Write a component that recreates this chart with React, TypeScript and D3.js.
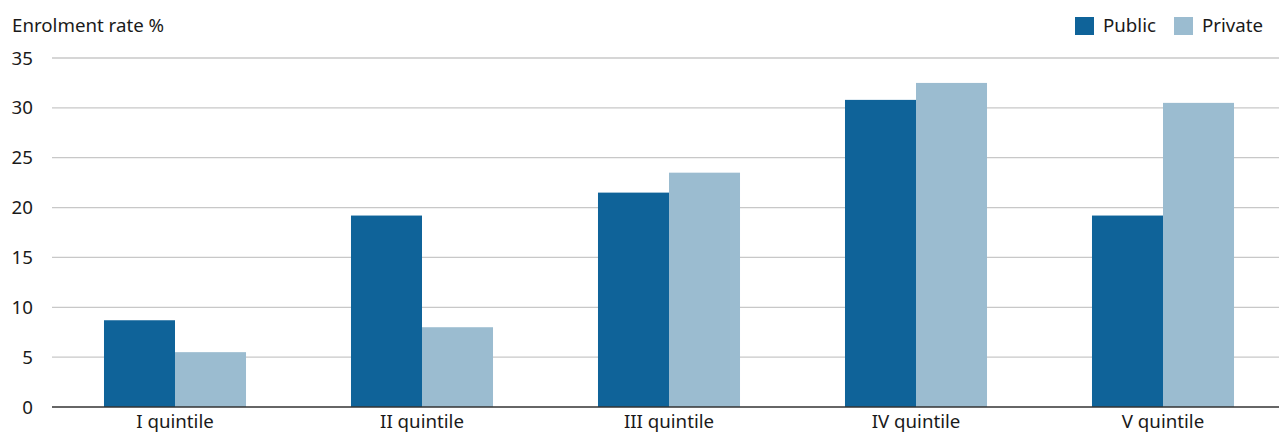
import React from "react";
import * as d3 from "d3";

const categories = ["I quintile", "II quintile", "III quintile", "IV quintile", "V quintile"];
const publicValues = [8.7, 19.2, 21.5, 30.8, 19.2];
const privateValues = [5.5, 8.0, 23.5, 32.5, 30.5];
const seriesNames = ["Public", "Private"];
const yTicks = [0, 5, 10, 15, 20, 25, 30, 35];

const W = 1279;
const H = 432;
const colors = ["#0f6399", "#9bbcd0"];
const FONT = "'Noto Sans', sans-serif";
const FS = 18.7;

export default function App() {
  const x = d3.scaleBand<string>().domain(categories).range([51.5, 1286.5]).paddingInner(0.425).paddingOuter(0.2125);
  const y = d3.scaleLinear().domain([0, 35]).range([407, 58]);
  const series = [publicValues, privateValues];
  const bw = x.bandwidth() / 2;

  return (
    <svg width={W} height={H} style={{ position: "fixed", left: 0, top: 0, background: "#fff" }} fontFamily={FONT}>
      {yTicks.map((t) => (
        <g key={t}>
          {t > 0 && <line x1={52} x2={W} y1={y(t)} y2={y(t)} stroke="#c8c8c8" strokeWidth={1.3} />}
          <text x={33} y={y(t)} dy="0.35em" textAnchor="end" fontSize={FS} fill="#1a1a1a">{t}</text>
        </g>
      ))}
      {categories.map((c, i) => (
        <g key={c}>
          {series.map((s, j) => (
            <rect key={j} x={(x(c) as number) + j * bw} y={y(s[i])} width={bw} height={y(0) - y(s[i])} fill={colors[j]} />
          ))}
          <text x={(x(c) as number) + x.bandwidth() / 2} y={428} textAnchor="middle" fontSize={FS} fill="#1a1a1a">{c}</text>
        </g>
      ))}
      <line x1={52} x2={W} y1={y(0)} y2={y(0)} stroke="#333" strokeWidth={1.5} />
      <text x={12} y={32} fontSize={FS} fill="#1a1a1a">Enrolment rate %</text>
      {seriesNames.map((n, j) => {
        const lx = [1075, 1174][j];
        return (
          <g key={n}>
            <rect x={lx} y={17} width={19} height={18} fill={colors[j]} />
            <text x={lx + 28} y={32} fontSize={FS} fill="#1a1a1a">{n}</text>
          </g>
        );
      })}
    </svg>
  );
}
